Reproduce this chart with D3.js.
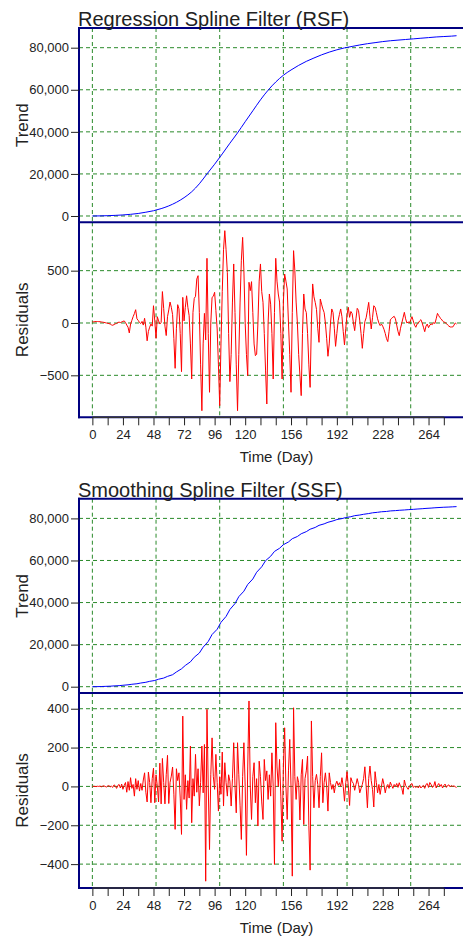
<!DOCTYPE html>
<html>
<head>
<meta charset="utf-8">
<script src="https://cdn.jsdelivr.net/npm/d3@7"></script>
<style>
  body { margin: 0; background: #fff; }
  svg { display: block; font-family: "Liberation Sans", Arial, sans-serif; }
</style>
</head>
<body>
<svg width="463" height="937"></svg>
<script>
// ---- data ----
const rsfTrendDays = [0, 6, 12, 18, 24, 30, 36, 42, 48, 54, 60, 66, 72, 78, 84, 90, 96, 102, 108, 114,
  120, 126, 132, 138, 144, 150, 156, 162, 168, 174, 180, 186, 192, 198, 204, 210, 216, 222, 228, 234,
  240, 246, 252, 258, 264, 270, 276, 282, 286];
const rsfTrend = [0, 50, 150, 300, 500, 800, 1200, 1800, 2500, 3500, 4800, 6500, 8700, 11500, 15300, 20000, 24600, 29500, 34600, 39500,
  44800, 50000, 55200, 59800, 63700, 66900, 69400, 71600, 73500, 75100, 76600, 77900, 79000, 79900, 80600, 81300, 81900, 82400, 82900, 83300,
  83600, 83900, 84200, 84500, 84800, 85100, 85300, 85500, 85700];

const ssfTrendDays = [0, 3, 7, 10, 14, 17, 21, 24, 28, 31, 35, 38, 42, 45, 49, 52, 56, 59, 63, 66,
  70, 73, 77, 80, 84, 87, 91, 94, 98, 101, 105, 108, 112, 115, 119, 122, 126, 129, 133, 136,
  140, 143, 147, 150, 154, 157, 161, 164, 168, 171, 175, 178, 182, 185, 189, 192, 196, 199, 203, 206,
  210, 213, 217, 220, 224, 227, 231, 234, 238, 241, 245, 248, 252, 255, 259, 262, 266, 269, 273, 276,
  280, 283, 286];
const ssfTrend = [0, 20, 80, 150, 250, 370, 500, 680, 900, 1150, 1400, 1750, 2100, 2550, 2950, 3550, 4100, 4900, 5700, 7000,
  8500, 10100, 11800, 14000, 16000, 18800, 21500, 24800, 27300, 30600, 33400, 36700, 39500, 42800, 45400, 48600, 51200, 54400, 57000, 59900,
  62000, 64300, 65800, 67500, 68800, 70350, 71400, 72700, 73700, 74850, 75700, 76700, 77400, 78150, 78800, 79450, 79900, 80400, 80800, 81300,
  81600, 81950, 82300, 82650, 82900, 83150, 83300, 83550, 83700, 83850, 84000, 84150, 84300, 84450, 84600, 84750, 84900, 85050, 85200, 85300,
  85400, 85500, 85600];

// residuals, one value per day (day 0 .. 286)
const rsfResid = [
  10, 12, 13, 14, 14, 13, 12, 10, 8, 6,
  3, 0, -3, -6, -10, -18, -22, -15, -8, -5,
  5, 8, 4, 10, 15, 20, 5, -20, -40, -95,
  -10, 25, 60, 90, 127, 40, 25, 5, -5, 15,
  -20, 45, -40, -170, -80, -40, -10, -30, 165, 20,
  -146, 60, 20, -10, 5, 300, 140, -30, -120, 60,
  125, 200, 150, 80, -150, -433, -50, 175, 135, -100,
  -465, 245, 20, 150, 260, 150, 70, -200, -535, 100,
  235, 255, 420, 452, 100, -400, -838, -200, 92, -162,
  618, -100, -662, 0, 245, 255, 293, 120, -57, -400,
  -790, -200, 300, 700, 882, 700, 484, -100, -560, -300,
  200, 564, 100, -400, -838, -300, 200, 600, 818, 500,
  0, -300, -503, 389, 309, 395, 100, -200, -312, -300,
  0, 400, 564, 300, 198, -100, -450, -774, 0, 277,
  180, -100, -535, 100, 618, 400, 277, 200, -100, -535,
  200, 468, 400, 325, 0, -300, -662, 100, 691, 500,
  200, 0, -300, -500, -694, -100, 277, 134, 100, -100,
  -400, -615, 0, 373, 250, 197, 130, -50, -185, 229,
  180, 134, 100, 0, -150, -318, -200, 0, 134, 100,
  -50, -223, -100, 22, 80, 134, 60, -80, -210, -50,
  80, 150, 54, 110, 90, 0, -73, 40, 140, 120,
  20, -100, -242, -100, 13, 50, 120, 197, 60, -57,
  50, 165, 150, 100, 40, 0, -25, -10, -30, -60,
  -100, -150, -178, -80, 30, 45, 55, 64, 40, -20,
  -80, -121, -50, 0, 50, 102, 40, 0, 10, 0,
  30, 60, 20, -20, -41, -10, 0, 20, 32, 0,
  -40, -83, -30, -10, -45, -20, -10, -15, 5, -5,
  40, 92, 70, 50, 38, 20, 10, 5, -5, -19,
  -30, -38, -38, -38, -20, 0, -10
];
const ssfResid = [
  0, 1, 0, -1, 1, 0, 2, -2, 1, 3,
  0, -3, 2, 4, -2, 1, -5, 8, 3, -10,
  5, 10, -8, 12, -15, 5, 20, -30, 25, -20,
  45, -10, 10, -50, 40, -15, 30, -24, 15, -20,
  33, 70, -30, -80, 74, 20, -84, 40, 94, -84,
  60, 0, -80, 120, -90, 144, 20, -90, 60, 160,
  -88, 20, 53, 100, -40, -221, 91, 30, 70, -60,
  -247, 362, -67, 60, -118, 30, -60, 208, -187, 40,
  -50, 165, -30, 91, -100, 20, 208, -33, 216, -488,
  397, 0, -325, 60, 250, 50, -15, 165, 20, -127,
  50, -40, 177, -101, 122, 20, -50, 60, 27, -101,
  40, 225, 0, -136, 225, 60, -100, -273, 50, 225,
  0, -355, 100, 440, 0, -170, 50, 122, -84, 40,
  -204, 130, 50, -80, -170, 139, 30, 80, -67, 60,
  -50, 173, 0, -402, 328, 100, 0, 139, -50, -282,
  100, 302, 0, -170, 80, 242, 0, -462, 405, 50,
  -67, 50, 19, -173, 60, 139, -196, 40, 80, 156,
  -200, -431, 337, 50, -110, 30, 62, 10, -110, 50,
  173, -84, 20, 70, 0, -127, 70, 20, -15, 10,
  -33, 10, 27, 5, 19, 0, 45, 0, -76, 20,
  76, 0, -98, 45, 25, 15, -20, 10, 40, 10,
  -33, -10, 10, 40, 101, 0, -110, 40, 105, 30,
  -15, -106, 76, 20, -33, 10, -41, 0, 40, 10,
  -33, 0, 10, -10, 22, 5, -10, 10, 0, 15,
  -5, 19, 0, -10, -41, 33, 5, -5, -15, 0,
  10, 15, -5, 0, -5, 0, -8, 5, -8, 0,
  5, -10, 10, 15, -5, 20, 10, -5, 0, 25,
  -8, 5, 15, 0, 10, -8, 5, 12, -5, 5,
  8, -3, 5, 0, 3, -2, -5
];

const trendTicks = [0, 20000, 40000, 60000, 80000];
const rsfResidTicks = [-500, 0, 500];
const ssfResidTicks = [-400, -200, 0, 200, 400];
const timeTicks = [0, 12, 24, 36, 48, 60, 72, 84, 96, 108, 120, 132, 144, 156, 168, 180, 192, 204, 216, 228, 240, 252, 264, 276];
const timeLabels = [0, 24, 48, 72, 96, 120, 156, 192, 228, 264];
const gridDays = [0, 50, 100, 150, 200, 250];

// ---- drawing ----
const svg = d3.select('svg');
const W = 463;
const navy = '#000080';
const gridCol = '#2a8a2a';
const ink = '#222';

const x = d3.scaleLinear().domain([-10.5, 297.5]).range([79, 471.2]);

function panelGrid(g, yScale, ticks, top, bottom) {
  g.selectAll(null).data(ticks).enter().append('line')
    .attr('x1', 79).attr('x2', W)
    .attr('y1', d => yScale(d)).attr('y2', d => yScale(d))
    .attr('stroke', gridCol).attr('stroke-width', 1).attr('stroke-dasharray', '4,3');
  g.selectAll(null).data(gridDays).enter().append('line')
    .attr('x1', d => x(d)).attr('x2', d => x(d))
    .attr('y1', top).attr('y2', bottom)
    .attr('stroke', gridCol).attr('stroke-width', 1).attr('stroke-dasharray', '4,3');
}

function leftAxis(g, yScale, ticks, fmt) {
  const ax = g.append('g').attr('transform', 'translate(79,0)')
    .call(d3.axisLeft(yScale).tickValues(ticks).tickFormat(fmt).tickSize(8).tickPadding(2));
  ax.select('.domain').remove();
  ax.selectAll('line').attr('stroke', ink);
  ax.selectAll('text').attr('fill', ink).style('font-size', '13px')
    .style('font-family', '"Liberation Sans", Arial, sans-serif');
}

function drawChart(top, title, tDays, tVals, tCurve, resid, rTicks, rDomain) {
  const g = svg.append('g').attr('transform', `translate(0,${top})`);
  const panTop = 28, split = 222.3, panBot = 417.3;

  const yT = d3.scaleLinear().domain([-2995, 89362]).range([split, panTop]);
  const yR = d3.scaleLinear().domain(rDomain).range([panBot, split]);

  panelGrid(g, yT, trendTicks, panTop, split);
  panelGrid(g, yR, rTicks, split, panBot);

  const trendLine = d3.line().x((d, i) => x(tDays[i])).y(d => yT(d)).curve(tCurve);
  g.append('path').datum(tVals)
    .attr('d', trendLine)
    .attr('fill', 'none').attr('stroke', '#0000ff').attr('stroke-width', 1);

  const residLine = d3.line().x((d, i) => x(i)).y(d => yR(d));
  g.append('path').datum(resid)
    .attr('d', residLine)
    .attr('fill', 'none').attr('stroke', '#ff0000').attr('stroke-width', 1);

  // panel borders
  [panTop, split, panBot].forEach(yy => {
    g.append('line').attr('x1', 78).attr('x2', W).attr('y1', yy).attr('y2', yy)
      .attr('stroke', navy).attr('stroke-width', 2);
  });
  g.append('line').attr('x1', 79).attr('x2', 79).attr('y1', panTop - 1).attr('y2', panBot + 1)
    .attr('stroke', navy).attr('stroke-width', 2);

  leftAxis(g, yT, trendTicks, d3.format(','));
  leftAxis(g, yR, rTicks, d3.format('d'));

  // time axis
  const ax = g.append('g').attr('transform', `translate(0,${panBot})`)
    .call(d3.axisBottom(x).tickValues(timeTicks)
      .tickFormat(d => timeLabels.includes(d) ? d : '')
      .tickSize(8).tickPadding(4.5));
  ax.select('.domain').remove();
  ax.selectAll('line').attr('stroke', ink);
  ax.selectAll('text').attr('fill', ink).style('font-size', '13px')
    .style('font-family', '"Liberation Sans", Arial, sans-serif');
  g.append('line').attr('x1', x(0)).attr('x2', x(276)).attr('y1', panBot).attr('y2', panBot)
    .attr('stroke', '#333').attr('stroke-width', 1.5);

  // texts
  g.append('text').attr('x', 78).attr('y', 26)
    .attr('fill', ink).style('font-size', '20px').text(title);
  g.append('text').attr('transform', `translate(28,${(panTop + split) / 2}) rotate(-90)`)
    .attr('text-anchor', 'middle').attr('fill', ink).style('font-size', '17px').text('Trend');
  g.append('text').attr('transform', `translate(28,${(split + panBot) / 2}) rotate(-90)`)
    .attr('text-anchor', 'middle').attr('fill', ink).style('font-size', '17px').text('Residuals');
  g.append('text').attr('x', 276.5).attr('y', 462)
    .attr('text-anchor', 'middle').attr('fill', ink).style('font-size', '15px').text('Time (Day)');
}

drawChart(0, 'Regression Spline Filter (RSF)', rsfTrendDays, rsfTrend, d3.curveMonotoneX,
  rsfResid, rsfResidTicks, [-901, 962]);
drawChart(470.7, 'Smoothing Spline Filter (SSF)', ssfTrendDays, ssfTrend, d3.curveLinear,
  ssfResid, ssfResidTicks, [-523, 481]);
</script>
</body>
</html>
